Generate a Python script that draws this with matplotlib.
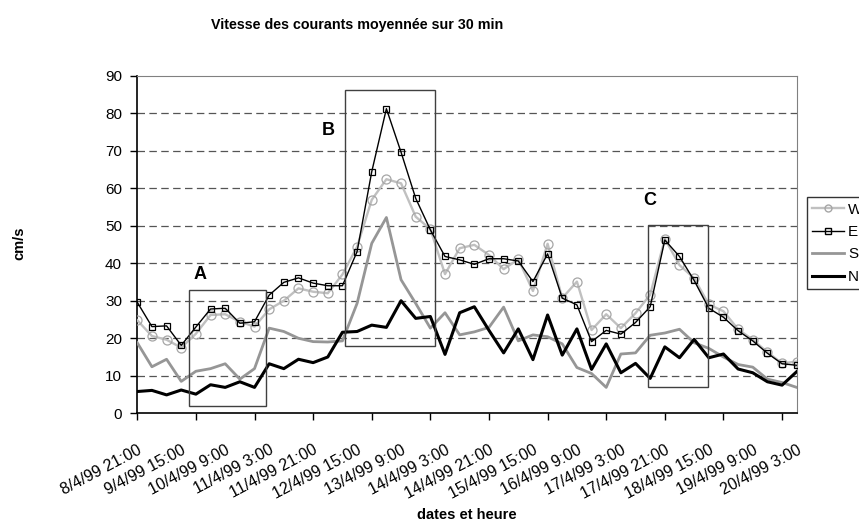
import matplotlib
matplotlib.use("Agg")
import matplotlib.pyplot as plt
from matplotlib.patches import Rectangle
from matplotlib.lines import Line2D

plt.rcParams["font.family"] = ["Liberation Sans", "DejaVu Sans"]

# mesures toutes les 6 h, du 8/4/99 21:00 au 20/4/99 3:00
tick_labels = ["8/4/99 21:00", "9/4/99 15:00", "10/4/99 9:00", "11/4/99 3:00",
               "11/4/99 21:00", "12/4/99 15:00", "13/4/99 9:00", "14/4/99 3:00",
               "14/4/99 21:00", "15/4/99 15:00", "16/4/99 9:00", "17/4/99 3:00",
               "17/4/99 21:00", "18/4/99 15:00", "19/4/99 9:00", "20/4/99 3:00"]

W = [24.8, 20.6, 19.6, 17.5, 21.2, 26.2, 26.4, 24.4, 23.1, 27.7,
     30.0, 33.3, 32.4, 32.0, 37.0, 44.4, 56.9, 62.4, 61.3, 52.4,
     49.1, 37.1, 44.0, 44.9, 42.2, 38.4, 41.1, 32.6, 45.2, 30.7,
     35.1, 22.2, 26.4, 22.7, 26.7, 31.6, 46.5, 39.5, 36.0, 29.0,
     27.2, 22.4, 19.6, 16.3, 13.3, 13.8]
E = [29.6, 23.1, 23.3, 18.1, 23.0, 27.8, 28.0, 24.0, 24.4, 31.5,
     34.9, 36.1, 34.7, 34.0, 34.0, 43.1, 64.4, 81.2, 69.6, 57.3,
     48.9, 41.8, 40.9, 39.7, 41.2, 41.2, 40.6, 35.1, 42.5, 30.7,
     28.9, 19.1, 22.1, 21.1, 24.2, 28.4, 46.2, 41.8, 35.4, 28.0,
     25.6, 22.0, 19.3, 16.0, 13.2, 12.8]
S = [18.8, 12.4, 14.4, 8.5, 11.2, 11.9, 13.2, 9.1, 11.9, 22.7,
     21.8, 20.0, 19.1, 19.0, 19.3, 29.3, 45.3, 52.2, 35.6, 29.3,
     22.7, 26.8, 20.9, 21.7, 22.9, 28.3, 19.3, 20.9, 20.4, 18.5,
     12.2, 10.6, 6.9, 15.8, 16.1, 20.8, 21.4, 22.4, 18.8, 17.3,
     15.0, 13.0, 12.3, 9.1, 8.2, 6.9]
N = [5.8, 6.1, 4.9, 6.2, 5.1, 7.6, 6.9, 8.4, 6.9, 13.2,
     11.9, 14.4, 13.5, 15.0, 21.6, 21.8, 23.5, 22.9, 30.0, 25.3,
     25.8, 15.7, 26.8, 28.4, 22.1, 16.1, 22.5, 14.3, 26.2, 15.5,
     22.5, 11.7, 18.5, 10.8, 13.3, 9.3, 17.7, 14.8, 19.7, 14.8,
     15.8, 11.8, 10.8, 8.4, 7.5, 11.1]

# zones encadrées A, B, C : x0, x1, y0, y1 (index / cm/s) + position de la lettre
zones = {"A": (3.55, 8.76, 2.0, 32.9, 4.3, 37.1),
         "B": (14.2, 20.35, 17.9, 86.2, 13.0, 75.4),
         "C": (34.86, 38.96, 7.1, 50.1, 35.0, 56.7)}

x = list(range(len(E)))

fig = plt.figure(figsize=(8.59, 5.23), dpi=100)
ax = fig.add_axes([0.1598, 0.2098, 0.7677, 0.6455])

for v in range(10, 90, 10):
    ax.axhline(v, color="#555555", lw=0.9, ls=(0, (6, 3.5)), zorder=1)

ax.plot(x, S, color="#969696", lw=2.0, zorder=3)
ax.plot(x, N, color="black", lw=2.2, zorder=3)
ax.plot(x, W, color="#c0c0c0", lw=1.7, marker="o", ms=6.5, mfc="none",
        mec="#a6a6a6", mew=0.9, zorder=4)
ax.plot(x, E, color="black", lw=1.0, marker="s", ms=4.2, mfc="none",
        mec="black", mew=0.9, zorder=5)

for name, (x0, x1, y0, y1, tx, ty) in zones.items():
    ax.add_patch(Rectangle((x0, y0), x1 - x0, y1 - y0, fill=False,
                           ec="#404040", lw=1.0, zorder=6))
    ax.text(tx, ty, name, fontsize=13, fontweight="bold", ha="center", va="center")

ax.set_xlim(0, len(E) - 1)
ax.set_ylim(0, 90)
ax.set_yticks(range(0, 91, 10))
# étiquettes toutes les 3 catégories, graduations toutes les 4
ax.xaxis.remove_overlapping_locs = False
ax.set_xticks(range(0, len(E), 3))
ax.set_xticklabels(tick_labels, rotation=28, ha="right",
                   rotation_mode="anchor", fontsize=11.5)
ax.set_xticks(range(0, len(E), 4), minor=True)
ax.tick_params(axis="x", which="major", length=0, pad=21)
ax.tick_params(axis="x", which="minor", length=5, width=1, direction="out")
ax.tick_params(axis="y", length=5, width=1, direction="out", labelsize=11, pad=6)

for s in ["top", "right"]:
    ax.spines[s].set_color("#808080")
for s in ["left", "bottom"]:
    ax.spines[s].set_color("black")
    ax.spines[s].set_linewidth(1.2)

fig.text(357.5 / 859, 1 - 25 / 523, "Vitesse des courants moyennée sur 30 min",
         ha="center", va="center", fontsize=10.3, fontweight="bold")
fig.text(467 / 859, 1 - 515 / 523, "dates et heure", ha="center", va="center",
         fontsize=10.5, fontweight="bold")
fig.text(19.5 / 859, 1 - 243 / 523, "cm/s", ha="center", va="center",
         rotation=90, fontsize=10.5, fontweight="bold")

handles = [Line2D([], [], color="#c0c0c0", lw=1.7, marker="o", ms=5, mfc="none", mec="#a6a6a6"),
           Line2D([], [], color="black", lw=1.0, marker="s", ms=4, mfc="none", mec="black"),
           Line2D([], [], color="#969696", lw=2.0),
           Line2D([], [], color="black", lw=2.2)]
leg = fig.legend(handles, ["W", "E", "S", "N"], loc="upper left",
                 bbox_to_anchor=(806.7 / 859, 1 - 197.3 / 523), fontsize=11,
                 frameon=True, fancybox=False, edgecolor="black", handlelength=2.1,
                 handletextpad=0.25, labelspacing=0.55, borderpad=0.35, borderaxespad=0)
leg.get_frame().set_linewidth(1.0)

fig.savefig("out.png", dpi=100)
